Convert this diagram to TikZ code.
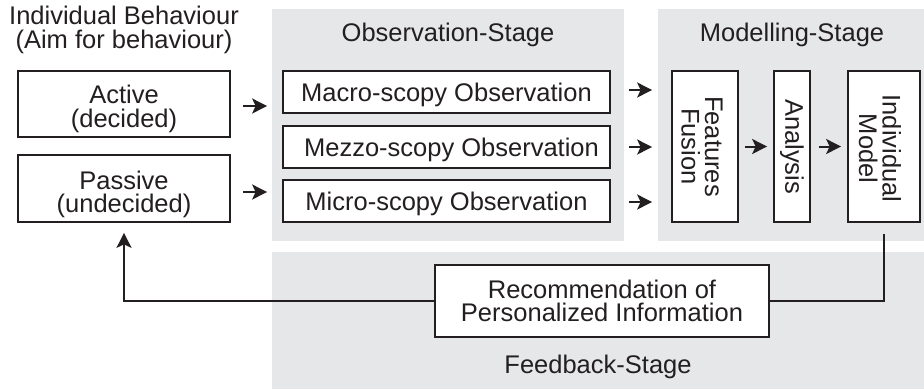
\documentclass[tikz,border=0pt]{standalone}
\usepackage{fontspec}
\setmainfont{Liberation Sans}
\usetikzlibrary{arrows.meta}
\definecolor{bgc}{HTML}{E6E7E9}
\definecolor{ink}{HTML}{231F20}
\tikzset{
  stagebg/.style={fill=bgc, draw=none},
  box/.style={draw=ink, line width=1.7pt, fill=white, inner sep=0pt, align=center, text=ink},
  lbl/.style={align=center, text=ink, inner sep=0pt},
  arr/.style={draw=ink, line width=2pt, -{Stealth[length=15pt,width=15pt,inset=3.5pt]}},
  ln/.style={draw=ink, line width=2pt}
}
\begin{document}
\begin{tikzpicture}[x=1pt,y=-1pt, font=\fontsize{25.5}{23.5}\selectfont]
\useasboundingbox (0,0) rectangle (924,389);
% stage backgrounds
\fill[stagebg] (272,9) rectangle (624,241);
\fill[stagebg] (658,9) rectangle (924,241);
\fill[stagebg] (272,252) rectangle (924,389);
% labels
\node[lbl] (ib) at (124,30) {Individual Behaviour\\(Aim for behaviour)};
\node[lbl] (obsl) at (448,35) {Observation-Stage};
\node[lbl] (modl) at (792,35) {Modelling-Stage};
\node[lbl] (fbl) at (598,367) {Feedback-Stage};
% left boxes
\node[box, minimum width=212pt, minimum height=66pt] (act) at (124,104) {};
\node[lbl] at ([yshift=-5pt]act.center) {Active\\(decided)};
\node[box, minimum width=212pt, minimum height=67pt] (pas) at (124,188.5) {};
\node[lbl] at ([yshift=-6pt]pas.center) {Passive\\(undecided)};
% observation boxes
\node[box, minimum width=327pt, minimum height=42pt] (mac) at (446.5,92) {};
\node[lbl] at ([yshift=-3pt]mac.center) {Macro-scopy Observation};
\node[box, minimum width=327pt, minimum height=42pt] (mez) at (446.5,147) {};
\node[lbl] at ([xshift=5pt,yshift=-3pt]mez.center) {Mezzo-scopy Observation};
\node[box, minimum width=327pt, minimum height=42pt] (mic) at (446.5,201) {};
\node[lbl] at ([yshift=-3pt]mic.center) {Micro-scopy Observation};
% modelling boxes
\node[box, minimum width=66pt, minimum height=151pt] (ff) at (705,146.5) {};
\node[lbl, rotate=-90] at ([xshift=-3pt]ff.center) {Features\\Fusion};
\node[box, minimum width=36pt, minimum height=151pt] (an) at (792,146.5) {};
\node[lbl, rotate=-90] at (an.center) {Analysis};
\node[box, minimum width=72pt, minimum height=151pt] (im) at (884,146.5) {};
\node[lbl, rotate=-90] at ([xshift=-4pt,yshift=-2pt]im.center) {Individual\\Model};
% feedback box
\node[box, minimum width=334pt, minimum height=72pt] (rec) at (602,301) {Recommendation of\\Personalized Information};
% arrows
\draw[arr, shorten <=12pt, shorten >=15pt] ([yshift=-2pt]act.east) -- ([yshift=-2pt]act.east -| mac.west);
\draw[arr, shorten <=12pt, shorten >=15pt] ([yshift=-3.5pt]pas.east) -- ([yshift=-3.5pt]pas.east -| mic.west);
\draw[arr, shorten <=18pt, shorten >=19pt] ([yshift=2pt]mac.east) -- ([yshift=2pt]mac.east -| ff.west);
\draw[arr, shorten <=18pt, shorten >=19pt] (mez.east) -- (mez.east -| ff.west);
\draw[arr, shorten <=18pt, shorten >=19pt] ([yshift=-1pt]mic.east) -- ([yshift=-1pt]mic.east -| ff.west);
\draw[arr, shorten <=6pt, shorten >=6pt] (ff.east) -- (an.west);
\draw[arr, shorten <=8pt, shorten >=6pt] (an.east) -- (im.west);
% feedback loop
\draw[ln, shorten <=11pt] (im.south) |- (rec.east);
\draw[arr, shorten >=10pt] (rec.west) -| (pas.south);
\end{tikzpicture}
\end{document}
